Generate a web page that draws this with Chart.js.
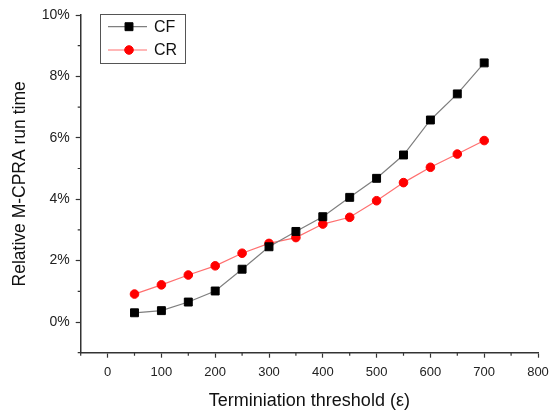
<!DOCTYPE html>
<html>
<head>
<meta charset="utf-8">
<script src="https://cdn.jsdelivr.net/npm/chart.js@4"></script>
<style>
  html, body { margin: 0; padding: 0; background: #fff; }
  #wrap { width: 558px; height: 412px; position: relative; }
</style>
</head>
<body>
<div id="wrap"><canvas id="chart"></canvas></div>
<script>
// 데이터
const thresholds = [50, 100, 150, 200, 250, 300, 350, 400, 450, 500, 550, 600, 650, 700];
const cfValues = [0.30, 0.37, 0.65, 1.01, 1.72, 2.45, 2.95, 3.43, 4.06, 4.68, 5.44, 6.58, 7.43, 8.44];
const crValues = [0.91, 1.21, 1.53, 1.83, 2.24, 2.56, 2.75, 3.19, 3.41, 3.95, 4.54, 5.04, 5.47, 5.91];
const seriesLabels = ['CF', 'CR'];

const xMajorTicks = [0, 100, 200, 300, 400, 500, 600, 700, 800];
const xMinorTicks = [-50, 50, 150, 250, 350, 450, 550, 650, 750];
const yMajorTicks = [0, 2, 4, 6, 8, 10];
const yMinorTicks = [-1, 1, 3, 5, 7, 9];

const xTitle = 'Terminiation threshold (\u03b5)';
const yTitle = 'Relative M-CPRA run time';

const axisColor = '#333';
const font = 'Liberation Sans, Arial, sans-serif';

// 보조 눈금
const minorTicks = {
  id: 'minorTicks',
  afterDraw(chart) {
    const ctx = chart.ctx;
    const xs = chart.scales.x, ys = chart.scales.y;
    ctx.save();
    ctx.strokeStyle = axisColor;
    ctx.lineWidth = 1.2;
    ctx.beginPath();
    xMinorTicks.forEach(v => {
      const px = xs.getPixelForValue(v);
      ctx.moveTo(px, xs.top);
      ctx.lineTo(px, xs.top + 3);
    });
    yMinorTicks.forEach(v => {
      const py = ys.getPixelForValue(v);
      ctx.moveTo(ys.right, py);
      ctx.lineTo(ys.right - 3, py);
    });
    ctx.stroke();
    ctx.restore();
  }
};

// 범례 (선 + 마커)
const boxLegend = {
  id: 'boxLegend',
  afterDraw(chart) {
    const ctx = chart.ctx;
    const x0 = 100.5, y0 = 14.5, w = 85, h = 49;
    ctx.save();
    ctx.strokeStyle = '#555';
    ctx.lineWidth = 1;
    ctx.strokeRect(x0, y0, w, h);
    chart.data.datasets.forEach((ds, i) => {
      const y = i === 0 ? 26.7 : 50;
      ctx.strokeStyle = ds.borderColor;
      ctx.lineWidth = ds.borderWidth;
      ctx.beginPath();
      ctx.moveTo(108, y);
      ctx.lineTo(147, y);
      ctx.stroke();
      ctx.fillStyle = ds.pointBackgroundColor;
      ctx.strokeStyle = ds.pointBorderColor;
      ctx.lineWidth = ds.pointBorderWidth;
      ctx.beginPath();
      if (ds.pointStyle === 'rect') {
        const s = ds.pointRadius * Math.SQRT1_2;
        ctx.rect(129 - s, y - s, 2 * s, 2 * s);
      } else {
        ctx.arc(129, y, ds.pointRadius, 0, Math.PI * 2);
      }
      ctx.fill();
      ctx.stroke();
      ctx.fillStyle = '#111';
      ctx.font = '16px ' + font;
      ctx.textBaseline = 'middle';
      ctx.fillText(ds.label, 154, y + 1);
    });
    ctx.restore();
  }
};

new Chart(document.getElementById('chart'), {
  type: 'line',
  data: {
    datasets: [
      {
        label: seriesLabels[0],
        data: thresholds.map((t, i) => ({ x: t, y: cfValues[i] })),
        borderColor: '#7f7f7f',
        borderWidth: 1.2,
        pointStyle: 'rect',
        pointRadius: 5.6,
        pointBackgroundColor: '#000',
        pointBorderColor: '#000',
        pointBorderWidth: 1,
        tension: 0
      },
      {
        label: seriesLabels[1],
        data: thresholds.map((t, i) => ({ x: t, y: crValues[i] })),
        borderColor: '#ff7070',
        borderWidth: 1.2,
        pointStyle: 'circle',
        pointRadius: 4.3,
        pointBackgroundColor: '#ff0000',
        pointBorderColor: '#ff0000',
        pointBorderWidth: 1,
        tension: 0
      }
    ]
  },
  options: {
    responsive: true,
    maintainAspectRatio: false,
    animation: false,
    layout: { padding: { top: 15, right: 20, left: 0, bottom: 0 } },
    plugins: {
      legend: { display: false },
      tooltip: { enabled: false }
    },
    scales: {
      x: {
        type: 'linear',
        min: -50,
        max: 800,
        afterBuildTicks: s => { s.ticks = xMajorTicks.map(v => ({ value: v })); },
        afterFit: s => { s.height = 59.3; },
        border: { color: axisColor, width: 1.5 },
        grid: { drawOnChartArea: false, drawTicks: true, tickLength: 5, tickColor: axisColor, tickWidth: 1.2 },
        ticks: { color: '#222', font: { family: font, size: 13 }, padding: 7, maxRotation: 0 },
        title: { display: true, text: xTitle, color: '#111', font: { family: font, size: 18 }, padding: { top: 0, bottom: 0 } }
      },
      y: {
        type: 'linear',
        min: -1,
        max: 10,
        afterBuildTicks: s => { s.ticks = yMajorTicks.map(v => ({ value: v })); },
        afterFit: s => { s.width = 80.7; },
        border: { color: axisColor, width: 1.5 },
        grid: { drawOnChartArea: false, drawTicks: true, tickLength: 5, tickColor: axisColor, tickWidth: 1.2 },
        ticks: { color: '#222', font: { family: font, size: 14 }, padding: 6, callback: v => v + '%' },
        title: { display: true, text: yTitle, color: '#111', font: { family: font, size: 17.5 }, padding: { top: 9.5, bottom: 0 } }
      }
    }
  },
  plugins: [minorTicks, boxLegend]
});
</script>
</body>
</html>
